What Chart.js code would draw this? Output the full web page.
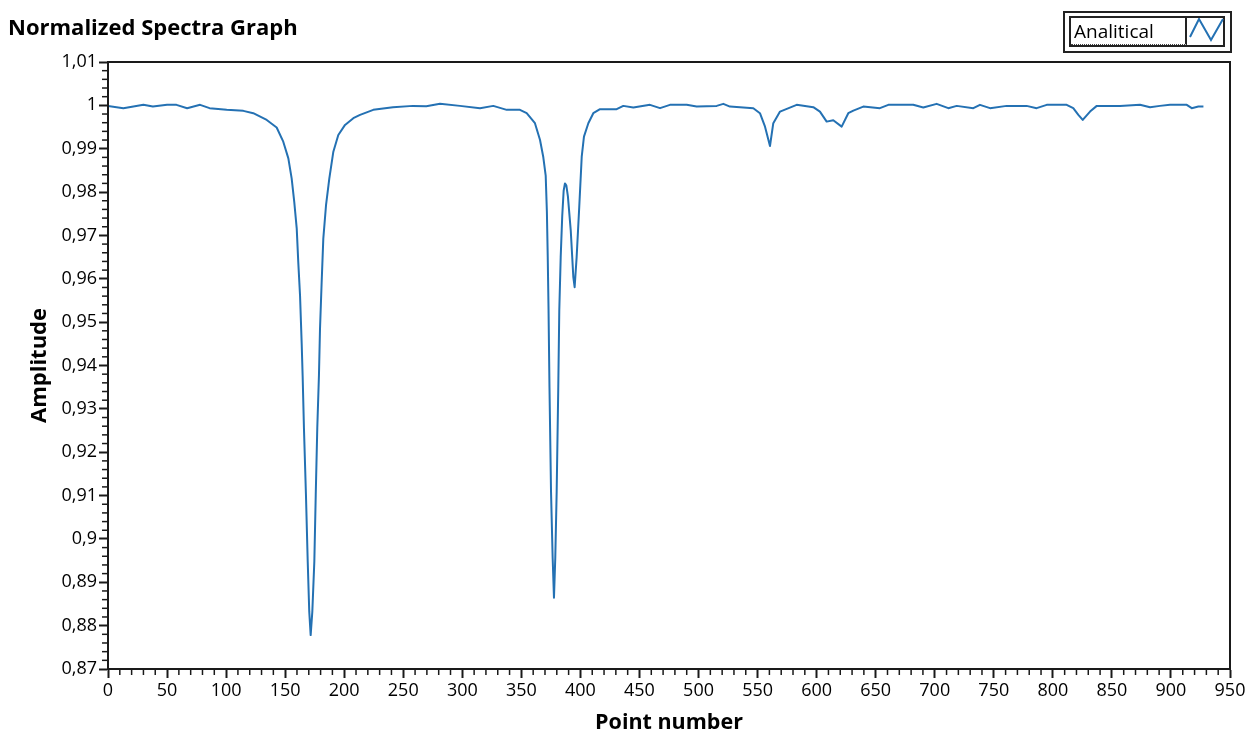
<!DOCTYPE html>
<html>
<head>
<meta charset="utf-8">
<title>Normalized Spectra Graph</title>
<script src="https://cdn.jsdelivr.net/npm/chart.js@4.4.1/dist/chart.umd.min.js"></script>
<style>
  body { margin: 0; background: #fff; }
  #wrap { position: relative; width: 1249px; height: 736px; font-family: "Open Sans", sans-serif; color: #000; }
  #titulo { position: absolute; left: 8px; top: 11px; font-weight: bold; font-size: 22px; white-space: nowrap; }
  #leyenda { position: absolute; left: 1063px; top: 11px; width: 169px; height: 42px; border: 2px solid #222; box-sizing: border-box; }
  #leyInner { position: absolute; left: 1069px; top: 16px; width: 156px; height: 31px; border: 2px solid #222; box-sizing: border-box; }
  #leyTexto { position: absolute; left: 0; top: 0; width: 116px; height: 27px; border-right: 2px solid #222;
              border-bottom: 1px dotted #444; box-sizing: border-box; font-size: 19px; line-height: 26px; padding-left: 3px; }
  #leyIcono { position: absolute; left: 118px; top: 0; }
</style>
</head>
<body>
<div id="wrap">
  <canvas id="grafica" width="1249" height="736"></canvas>
  <div id="titulo">Normalized Spectra Graph</div>
  <div id="leyenda"></div>
  <div id="leyInner">
    <div id="leyTexto">Analitical</div>
    <svg id="leyIcono" width="36" height="27"><polyline points="1,19 10,1 22,22 34,1" fill="none" stroke="#2471b3" stroke-width="2"/></svg>
  </div>
</div>
<script>
// datos (numero de punto / amplitud normalizada)
var pointNumber = [
  0, 13, 30, 38, 50, 58, 67, 78, 86, 100.5, 114.6, 123, 134.4, 142.8, 148.4, 152.7, 155.5, 157.7, 159.8, 161.1,
  162.6, 164.0, 164.8, 165.9, 167.6, 169.1, 170.4, 171.6, 173.0, 174.7, 175.9, 177.2, 178.6, 179.5, 180.9, 182.3,
  184.6, 187.4, 190.8, 195.0, 200.7, 207.7, 213.4, 224.6, 241.3, 258.2, 269.5, 281.1, 298, 315, 326.2, 337.6,
  348.8, 354.5, 361.5, 365.8, 368.5, 370.6, 371.6, 372.3, 373.0, 373.8, 375.1, 376.5, 377.6, 378.7, 379.9, 381.2,
  382.1, 383.3, 384.6, 385.8, 386.9, 388.1, 389.4, 391.8, 394.0, 395.1, 396.8, 399.0, 401.1, 403.0, 406.7, 410.9, 416.6, 430.7,
  436.3, 444.8, 458.9, 467.4, 475.8, 490.0, 498.4, 515.4, 521.0, 526.6, 546.4, 552.0, 556.3, 560.5, 563.3, 569.0,
  583.1, 597.2, 602.8, 608.5, 614.1, 621.2, 626.8, 631.1, 639.5, 653.6, 660.7, 681.8, 690.3, 701.6, 711.5, 718.6,
  732.7, 738.3, 746.8, 760.9, 777.8, 786.3, 794.8, 811.7, 817.3, 821.6, 825.3, 831.5, 837.2, 856.9, 873.8, 882.3,
  890.7, 899.2, 913.4, 917.6, 923.2, 927.5
];
var amplitude = [
  0.99988, 0.99935, 1.00012, 0.99972, 1.00012, 1.00012, 0.99935, 1.00012, 0.99935, 0.99896, 0.99873, 0.99819, 0.99664, 0.9949, 0.99162, 0.98778, 0.98315, 0.97773, 0.97157, 0.96384,
  0.95613, 0.9450, 0.93762, 0.92565, 0.91023, 0.89479, 0.88322, 0.87782, 0.88322, 0.89479, 0.91023, 0.92565, 0.93762, 0.94843, 0.95921, 0.96926,
  0.97697, 0.98315, 0.98931, 0.99317, 0.99549, 0.99704, 0.9978, 0.99896, 0.99954, 0.99988, 0.99977, 1.00035, 0.99988, 0.99935, 0.99988, 0.99896,
  0.99896, 0.99819, 0.99588, 0.99201, 0.98815, 0.9838, 0.9755, 0.9655, 0.9530, 0.9350, 0.91099, 0.89556, 0.88646, 0.89556, 0.91099, 0.93414,
  0.95266, 0.965, 0.9745, 0.9803, 0.9820, 0.9815, 0.9790, 0.97118, 0.96037, 0.95806, 0.965, 0.97657, 0.98815, 0.99278, 0.99588, 0.99819, 0.99912, 0.99912,
  0.99988, 0.99949, 1.00012, 0.99935, 1.00012, 1.00012, 0.99972, 0.99988, 1.00035, 0.99972, 0.99935, 0.99819, 0.99509, 0.99063, 0.99588, 0.99856,
  1.00012, 0.99958, 0.99856, 0.99625, 0.99657, 0.99509, 0.99819, 0.9988, 0.99972, 0.99935, 1.00012, 1.00012, 0.99949, 1.00035, 0.99935, 0.99988,
  0.99935, 1.00012, 0.99935, 0.99988, 0.99988, 0.99935, 1.00012, 1.00012, 0.99935, 0.9978, 0.99664, 0.99856, 0.99988, 0.99988, 1.00012, 0.99958,
  0.99988, 1.00012, 1.00012, 0.99935, 0.99972, 0.99972
];

// ejes
var X_MIN = 0, X_MAX = 950, X_STEP = 50, X_MINOR = 10;
var Y_MIN = 0.87, Y_MAX = 1.01, Y_STEP = 0.01, Y_MINOR = 0.002;

var puntos = pointNumber.map(function(x, i){ return { x: x, y: amplitude[i] }; });

function etiquetaComa(v){
  return String(Number(v.toFixed(2))).replace(".", ",");
}

// marco del area de trazado y marcas menores
var marcoPlugin = {
  id: "marco",
  afterDraw: function(chart){
    var ctx = chart.ctx, a = chart.chartArea;
    var sx = chart.scales.x, sy = chart.scales.y;
    ctx.save();
    ctx.strokeStyle = "#1a1a1a";
    ctx.lineWidth = 1.5;
    var nY = Math.round((Y_MAX - Y_MIN) / Y_MINOR);
    for (var i = 0; i <= nY; i++) {
      if (i % 5 === 0) continue;
      var py = sy.getPixelForValue(Y_MIN + i * Y_MINOR);
      ctx.beginPath(); ctx.moveTo(a.left - 6, py); ctx.lineTo(a.left, py); ctx.stroke();
    }
    var nX = Math.round((X_MAX - X_MIN) / X_MINOR);
    for (var j = 0; j <= nX; j++) {
      if (j % 5 === 0) continue;
      var px = sx.getPixelForValue(X_MIN + j * X_MINOR);
      ctx.beginPath(); ctx.moveTo(px, a.bottom); ctx.lineTo(px, a.bottom + 6); ctx.stroke();
    }
    ctx.lineWidth = 2;
    ctx.strokeRect(a.left, a.top, a.right - a.left, a.bottom - a.top);
    ctx.restore();
  }
};

new Chart(document.getElementById("grafica"), {
  type: "line",
  data: {
    datasets: [{
      label: "Analitical",
      data: puntos,
      borderColor: "#2471b3",
      borderWidth: 2,
      borderJoinStyle: "round",
      pointRadius: 0,
      fill: false,
      tension: 0
    }]
  },
  options: {
    responsive: false,
    animation: false,
    layout: { padding: { left: 0, top: 62, right: 19, bottom: 0 } },
    plugins: { legend: { display: false }, tooltip: { enabled: false } },
    scales: {
      x: {
        type: "linear",
        min: X_MIN, max: X_MAX,
        afterFit: function(s){ s.height = 67; },
        ticks: { stepSize: X_STEP, maxRotation: 0, autoSkip: false, padding: 2, color: "#000",
                 font: { family: "Open Sans", size: 18 } },
        grid: { drawOnChartArea: false, tickLength: 9, tickWidth: 2, tickColor: "#1a1a1a" },
        border: { color: "#1a1a1a", width: 2 },
        title: { display: true, text: "Point number", color: "#000", padding: { top: 0, bottom: 0 },
                 font: { family: "Open Sans", size: 21.5, weight: "bold" } }
      },
      y: {
        min: Y_MIN, max: Y_MAX,
        afterFit: function(s){ s.width = 108; },
        ticks: { stepSize: Y_STEP, padding: 2, color: "#000", callback: etiquetaComa,
                 font: { family: "Open Sans", size: 18 } },
        grid: { drawOnChartArea: false, tickLength: 9, tickWidth: 2, tickColor: "#1a1a1a" },
        border: { color: "#1a1a1a", width: 2 },
        title: { display: true, text: "Amplitude", color: "#000", padding: { top: 27, bottom: 0 },
                 font: { family: "Open Sans", size: 22, weight: "bold" } }
      }
    }
  },
  plugins: [marcoPlugin]
});
</script>
</body>
</html>
